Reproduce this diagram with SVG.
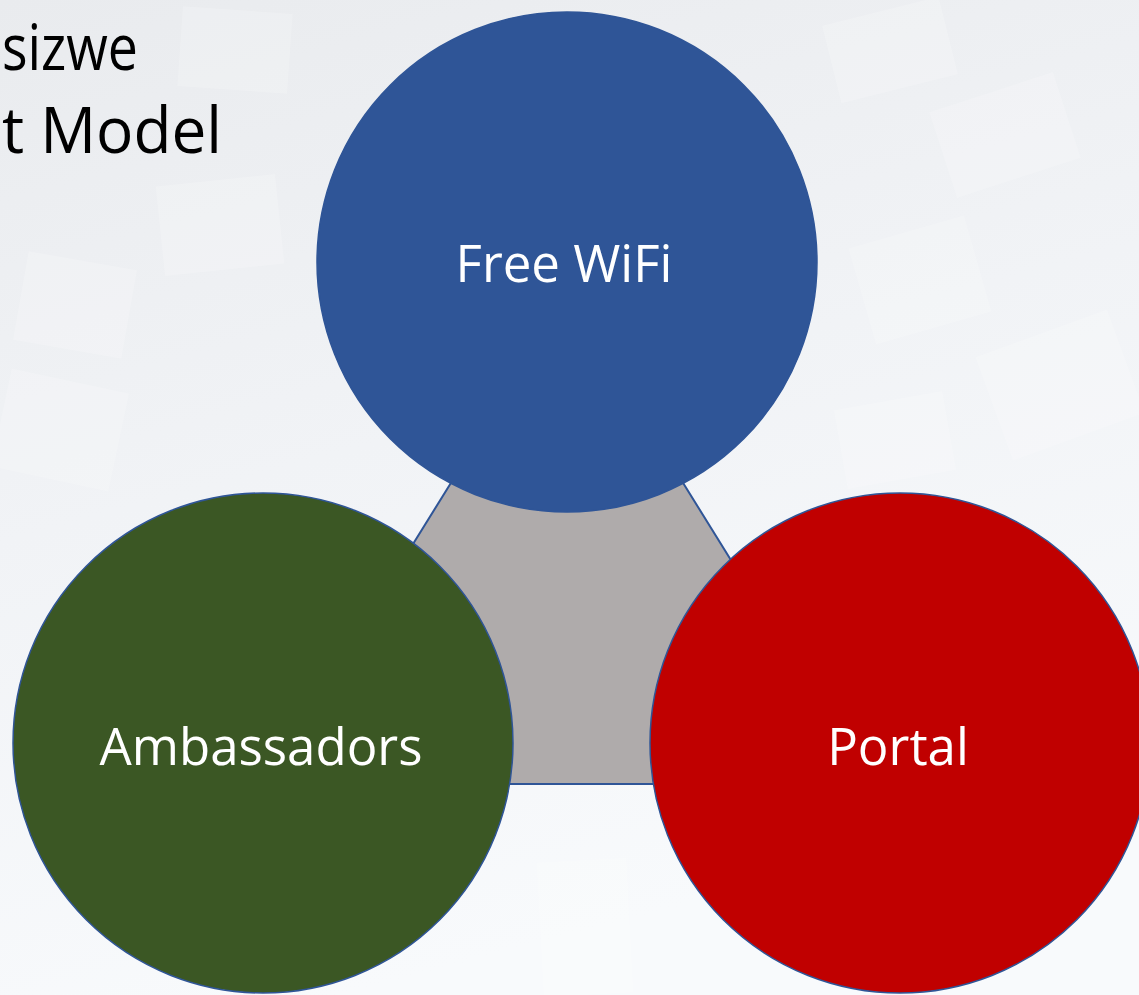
<svg xmlns="http://www.w3.org/2000/svg" width="1139" height="995" viewBox="0 0 1139 995">
  <defs>
    <linearGradient id="bg" x1="0" y1="0" x2="0.3" y2="1">
      <stop offset="0" stop-color="#E9EBEE"/>
      <stop offset="0.5" stop-color="#F1F3F6"/>
      <stop offset="1" stop-color="#F8FAFC"/>
    </linearGradient>
    <style>
      .tile { fill: #FFFFFF; opacity: 0.18; }
      .node { stroke: #2F5597; stroke-width: 1.5; }
      .label { font-family: "Open Sans", "Noto Sans", sans-serif; font-size: 51px; fill: #FFFFFF; text-anchor: middle; dominant-baseline: central; }
      .title { font-family: "Open Sans", "Noto Sans", sans-serif; font-size: 64px; fill: #000000; }
    </style>
  </defs>

  <g id="background">
    <rect x="0" y="0" width="1139" height="995" fill="url(#bg)"/>
    <rect class="tile" x="180" y="10" width="110" height="80" transform="rotate(4 235 50)"/>
    <rect class="tile" x="160" y="180" width="120" height="90" transform="rotate(-6 220 225)"/>
    <rect class="tile" x="20" y="260" width="110" height="90" transform="rotate(10 75 305)"/>
    <rect class="tile" x="0" y="380" width="120" height="100" transform="rotate(12 60 430)"/>
    <rect class="tile" x="830" y="10" width="120" height="80" transform="rotate(-14 890 50)"/>
    <rect class="tile" x="940" y="90" width="130" height="90" transform="rotate(-18 1005 135)"/>
    <rect class="tile" x="860" y="230" width="120" height="100" transform="rotate(-16 920 280)"/>
    <rect class="tile" x="990" y="330" width="140" height="110" transform="rotate(-20 1060 385)"/>
    <rect class="tile" x="840" y="400" width="110" height="80" transform="rotate(-10 895 440)"/>
    <rect class="tile" x="540" y="860" width="90" height="135" transform="rotate(-3 585 927)"/>
  </g>

  <g id="title">
    <text class="title" x="2" y="70" textLength="136" lengthAdjust="spacingAndGlyphs">sizwe</text>
    <text class="title" x="2" y="153" textLength="220" lengthAdjust="spacingAndGlyphs">t Model</text>
  </g>

  <g id="connectors">
    <polygon id="center-triangle" points="567,296 264,784 870,784" fill="#AFABAB" stroke="#2F5597" stroke-width="2"/>
  </g>

  <g id="node-free-wifi">
    <circle class="node" cx="567" cy="262" r="250" fill="#2F5597"/>
    <text class="label" x="564" y="262">Free WiFi</text>
  </g>

  <g id="node-ambassadors">
    <circle class="node" cx="263" cy="743" r="250" fill="#3B5724"/>
    <text class="label" x="261" y="745">Ambassadors</text>
  </g>

  <g id="node-portal">
    <circle class="node" cx="900" cy="743" r="250" fill="#C00000"/>
    <text class="label" x="898" y="745">Portal</text>
  </g>
</svg>
